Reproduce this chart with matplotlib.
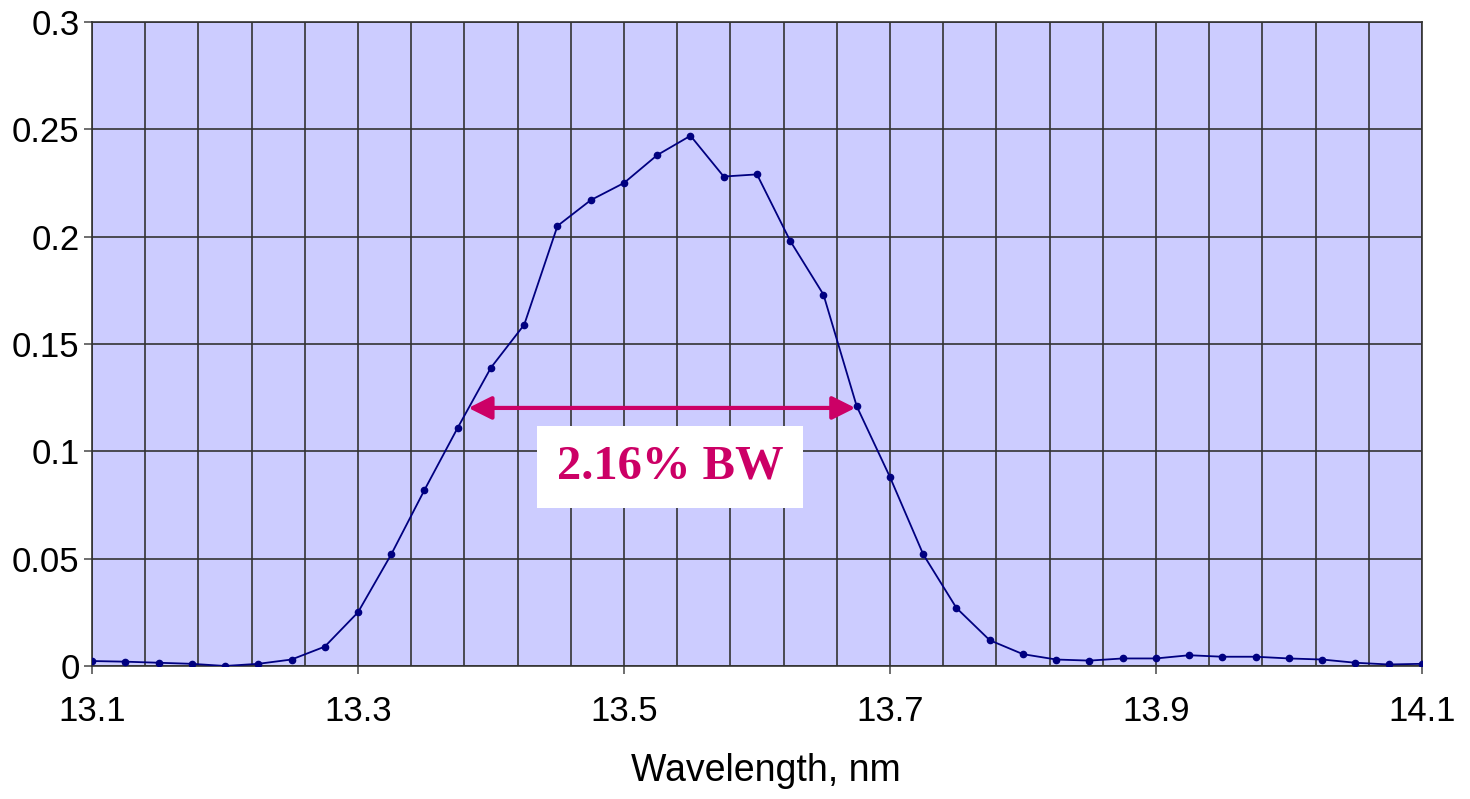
import numpy as np
import matplotlib.pyplot as plt
from matplotlib.ticker import FixedLocator

wavelength = [13.1, 13.125, 13.15, 13.175, 13.2, 13.225, 13.25, 13.275, 13.3, 13.325,
              13.35, 13.375, 13.4, 13.425, 13.45, 13.475, 13.5, 13.525, 13.55, 13.575,
              13.6, 13.625, 13.65, 13.675, 13.7, 13.725, 13.75, 13.775, 13.8, 13.825,
              13.85, 13.875, 13.9, 13.925, 13.95, 13.975, 14.0, 14.025, 14.05, 14.075, 14.1]
signal = [0.0023, 0.002, 0.0015, 0.001, 0.0, 0.001, 0.003, 0.009, 0.025, 0.052,
          0.082, 0.111, 0.139, 0.159, 0.205, 0.217, 0.225, 0.238, 0.247, 0.228,
          0.229, 0.198, 0.173, 0.121, 0.088, 0.052, 0.027, 0.012, 0.0055, 0.003,
          0.0025, 0.0035, 0.0035, 0.005, 0.0043, 0.0043, 0.0035, 0.003, 0.0015, 0.0007, 0.001]

x_ticks = [13.1, 13.3, 13.5, 13.7, 13.9, 14.1]
x_ticklabels = ['13.1', '13.3', '13.5', '13.7', '13.9', '14.1']
y_ticks = [0, 0.05, 0.1, 0.15, 0.2, 0.25, 0.3]
y_ticklabels = ['0', '0.05', '0.1', '0.15', '0.2', '0.25', '0.3']

# half-maximum band edges and label
fwhm_left, fwhm_right, fwhm_level = 13.383, 13.674, 0.1202
bw_label = "2.16% BW"

plt.rcParams['font.family'] = ['Liberation Sans', 'DejaVu Sans']

fig = plt.figure(figsize=(14.7, 7.99), dpi=100)
ax = fig.add_axes([0.0626, 0.1665, 0.9047, 0.806])
ax.set_facecolor('#CCCCFF')

ax.plot(wavelength, signal, color='#000080', linewidth=1.3,
        marker='o', markersize=4.5, zorder=3)

ax.set_xlim(13.1, 14.1)
ax.set_ylim(0, 0.3)
ax.set_xticks(x_ticks)
ax.set_xticklabels(x_ticklabels)
# vertical grid every 0.04 nm starting from 13.1
ax.xaxis.set_minor_locator(FixedLocator(np.round(13.1 + 0.04 * np.arange(26), 3)))
ax.set_yticks(y_ticks)
ax.set_yticklabels(y_ticklabels)

ax.grid(True, which='both', axis='x', color='#333333', linewidth=1.2, zorder=1)
ax.grid(True, which='major', axis='y', color='#333333', linewidth=1.2, zorder=1)
ax.set_axisbelow(True)

ax.tick_params(axis='both', which='major', direction='out', length=6,
               width=1.2, labelsize=25, color='#555555')
ax.tick_params(axis='x', which='major', pad=15)
ax.tick_params(axis='y', which='major', pad=3)
ax.tick_params(axis='x', which='minor', length=0)
for s in ax.spines.values():
    s.set_color('#333333')
    s.set_linewidth(1.2)

ax.set_xlabel('Wavelength, nm', fontsize=27)
ax.xaxis.set_label_coords(0.507, -0.135)

# FWHM arrow and label
ax.annotate('', xy=(fwhm_left, fwhm_level), xytext=(fwhm_right, fwhm_level),
            arrowprops=dict(arrowstyle='<|-|>', color='#CC0066', lw=3,
                            mutation_scale=35, shrinkA=0, shrinkB=0), zorder=4)
ax.text((fwhm_left + fwhm_right) / 2 + 0.006, 0.0927, bw_label,
        fontsize=35, fontweight='bold', color='#CC0066',
        family=['Liberation Serif', 'DejaVu Serif'],
        ha='center', va='center', zorder=5,
        bbox=dict(facecolor='white', edgecolor='none', pad=14))

fig.savefig('out.png', dpi=100)
